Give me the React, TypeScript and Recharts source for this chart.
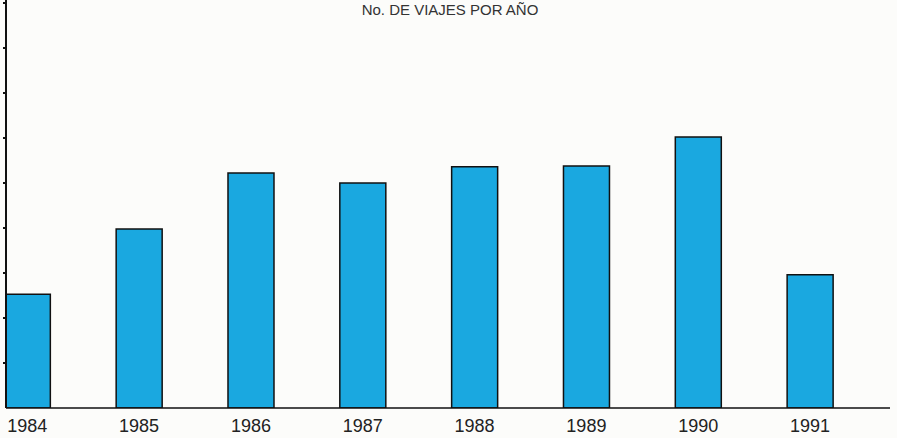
import React from "react";
import { BarChart, Bar, XAxis, YAxis } from "recharts";

const years = [1984, 1985, 1986, 1987, 1988, 1989, 1990, 1991];
const trips = [2.53, 3.98, 5.22, 5.0, 5.36, 5.38, 6.02, 2.96];
const yTicks = [1, 2, 3, 4, 5, 6, 7, 8, 9];
const title = "No. DE VIAJES POR AÑO";

const data = years.map((y, i) => ({ year: y, value: trips[i] }));

export default function App() {
  return (
    <div style={{ position: "absolute", left: 0, top: 0, width: 897, height: 438, background: "#fcfcfa" }}>
      <BarChart
        width={897}
        height={438}
        data={data}
        margin={{ top: 0, right: 7, bottom: 0, left: 0 }}
      >
        <XAxis
          dataKey="year"
          type="number"
          domain={[1983.81, 1991.715]}
          allowDataOverflow
          ticks={years}
          interval={0}
          height={30}
          tickSize={0}
          tickMargin={11}
          tickLine={false}
          axisLine={{ stroke: "#111", strokeWidth: 1.5 }}
          tick={{ fill: "#222", fontSize: 18, fontFamily: "Liberation Sans, Arial, sans-serif" }}
        />
        <YAxis
          width={6}
          domain={[0, 9.0667]}
          ticks={yTicks}
          interval={0}
          allowDataOverflow
          tick={{ fontSize: 1, fill: "transparent" }}
          tickFormatter={() => ""}
          tickSize={3}
          tickLine={{ stroke: "#111", strokeWidth: 2 }}
          axisLine={{ stroke: "#111", strokeWidth: 2 }}
        />
        <Bar
          dataKey="value"
          barSize={46}
          fill="#1aa8e0"
          stroke="#111"
          strokeWidth={1.5}
          isAnimationActive={false}
        />
      </BarChart>
      <svg width={897} height={24} style={{ position: "absolute", left: 0, top: 0, overflow: "visible" }}>
        <text
          x={450}
          y={15}
          textAnchor="middle"
          fill="#333"
          fontSize={15}
          fontFamily="Liberation Sans, Arial, sans-serif"
        >
          {title}
        </text>
      </svg>
    </div>
  );
}
